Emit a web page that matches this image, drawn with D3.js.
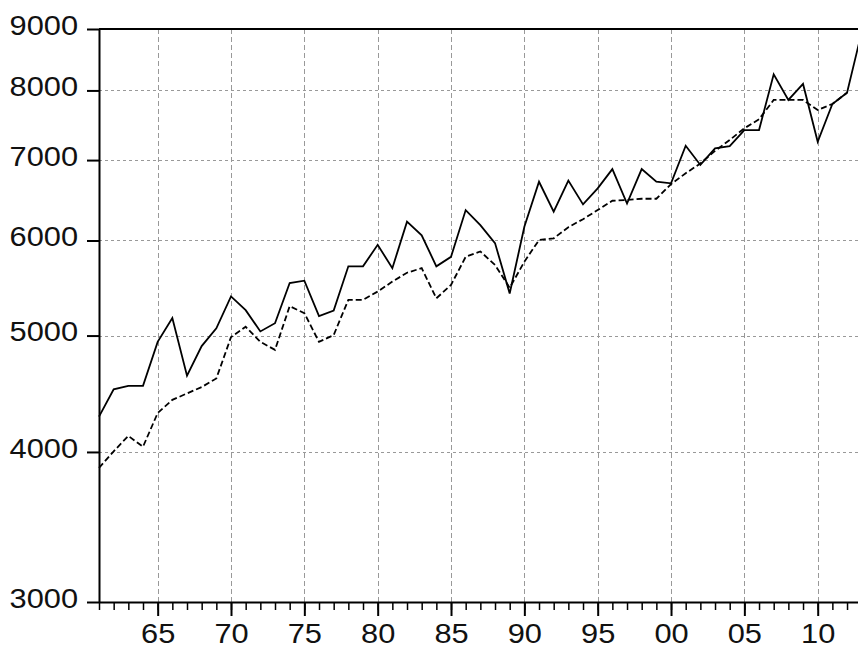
<!DOCTYPE html>
<meta charset="utf-8">
<style>
    body { margin: 0; background: #fff; }
    svg { display: block; }
    .grid line { stroke: #999; stroke-width: 1px; }
    .axis text { font-family: "Liberation Sans", Arial, sans-serif; font-size: 28px; fill: #111; }
    .axis path, .axis line { stroke: #000; }
    .series { fill: none; stroke: #000; stroke-width: 1.8px; stroke-linejoin: miter; }
</style>
<body>
<script src="https://cdnjs.cloudflare.com/ajax/libs/d3/7.8.5/d3.min.js"></script>
<script>
    // annual values, 1961..2013
    var years = d3.range(1961, 2014);

    var solidSeries = [
        4280, 4510, 4540, 4540, 4940, 5170, 4630, 4900, 5070, 5390,
        5250, 5040, 5120, 5530, 5555, 5190, 5245, 5710, 5710, 5950,
        5690, 6220, 6060, 5710, 5815, 6360, 6180, 5970, 5420, 6160,
        6715, 6340, 6730, 6430, 6630, 6880, 6440, 6880, 6715, 6695,
        7195, 6935, 7160, 7190, 7415, 7415, 8250, 7855, 8100, 7250,
        7795, 7965, 8950
    ];

    // dashed one stops in 2012
    var dashedSeries = [
        3880, 4005, 4125, 4040, 4310, 4420, 4475, 4530, 4605, 4985,
        5085, 4940, 4865, 5290, 5220, 4940, 5005, 5355, 5355, 5440,
        5545, 5640, 5690, 5370, 5510, 5815, 5875, 5725, 5480, 5760,
        6005, 6025, 6155, 6250, 6360, 6475, 6485, 6500, 6500, 6685,
        6825, 6955, 7125, 7275, 7440, 7570, 7855, 7855, 7855, 7705,
        7795, 7965
    ];

    var yTicks = [3000, 4000, 5000, 6000, 7000, 8000, 9000];
    var yGrid = [4000, 5000, 6000, 7000, 8000];
    var xTickYears = [1965, 1970, 1975, 1980, 1985, 1990, 1995, 2000, 2005, 2010];
    var xTickLabels = ["65", "70", "75", "80", "85", "90", "95", "00", "05", "10"];
    var minorYears = d3.range(1961, 2013);

    var width = 858, height = 653;
    var plotLeft = 99, plotTop = 29, plotBottom = 602;
    var stretch = 1.1; // labels in the picture are a bit wide

    var x = d3.scaleLinear().domain([1961, 2013]).range([plotLeft, 861.7]);
    var y = d3.scaleLog().domain([3000, 9000]).range([plotBottom, plotTop]);

    var svg = d3.select("body").append("svg")
        .attr("width", width)
        .attr("height", height);

    // grid
    var grid = svg.append("g").attr("class", "grid");
    grid.selectAll(".gx").data(xTickYears).enter().append("line")
        .attr("class", "gx")
        .attr("x1", function(d) { return Math.round(x(d)) + 0.5; })
        .attr("x2", function(d) { return Math.round(x(d)) + 0.5; })
        .attr("y1", plotTop)
        .attr("y2", plotBottom)
        .attr("stroke-dasharray", "5,3");
    grid.selectAll(".gy").data(yGrid).enter().append("line")
        .attr("class", "gy")
        .attr("x1", plotLeft)
        .attr("x2", width)
        .attr("y1", function(d) { return Math.round(y(d)) + 0.5; })
        .attr("y2", function(d) { return Math.round(y(d)) + 0.5; })
        .attr("stroke-dasharray", "3,3");

    // series
    var line = d3.line()
        .x(function(d, i) { return x(years[i]); })
        .y(function(d) { return y(d); });

    svg.append("path")
        .datum(dashedSeries)
        .attr("class", "series")
        .attr("stroke-dasharray", "6,3")
        .attr("d", line);

    svg.append("path")
        .datum(solidSeries)
        .attr("class", "series")
        .attr("d", line);

    // top border
    svg.append("line")
        .attr("x1", plotLeft).attr("x2", width)
        .attr("y1", plotTop).attr("y2", plotTop)
        .attr("stroke", "#000")
        .attr("stroke-width", 2);

    // axes
    var yAxis = d3.axisLeft(y)
        .tickValues(yTicks)
        .tickFormat(d3.format("d"))
        .tickSize(12)
        .tickSizeOuter(0)
        .tickPadding(9);

    var gy = svg.append("g")
        .attr("class", "axis")
        .attr("transform", "translate(" + plotLeft + ",0)")
        .call(yAxis);
    gy.selectAll("text")
        .attr("dy", "0.18em")
        .attr("x", 0)
        .attr("transform", "translate(-21,0) scale(" + stretch + ",1)");
    gy.select(".domain").attr("stroke-width", 2);
    gy.selectAll(".tick line").attr("stroke-width", 2);

    var xMinor = d3.axisBottom(x)
        .tickValues(minorYears)
        .tickFormat("")
        .tickSize(8)
        .tickSizeOuter(0);

    var gxm = svg.append("g")
        .attr("class", "axis")
        .attr("transform", "translate(0," + plotBottom + ")")
        .call(xMinor);
    gxm.select(".domain").attr("stroke-width", 2);
    gxm.selectAll(".tick line").attr("stroke-width", 1.5);

    var xAxis = d3.axisBottom(x)
        .tickValues(xTickYears)
        .tickFormat(function(d, i) { return xTickLabels[i]; })
        .tickSize(14)
        .tickSizeOuter(0)
        .tickPadding(7);

    var gx = svg.append("g")
        .attr("class", "axis")
        .attr("transform", "translate(0," + plotBottom + ")")
        .call(xAxis);
    gx.select(".domain").remove();
    gx.selectAll(".tick line").attr("stroke-width", 2);
    gx.selectAll("text").attr("transform", "scale(" + stretch + ",1)");
</script>
</body>
</html>
